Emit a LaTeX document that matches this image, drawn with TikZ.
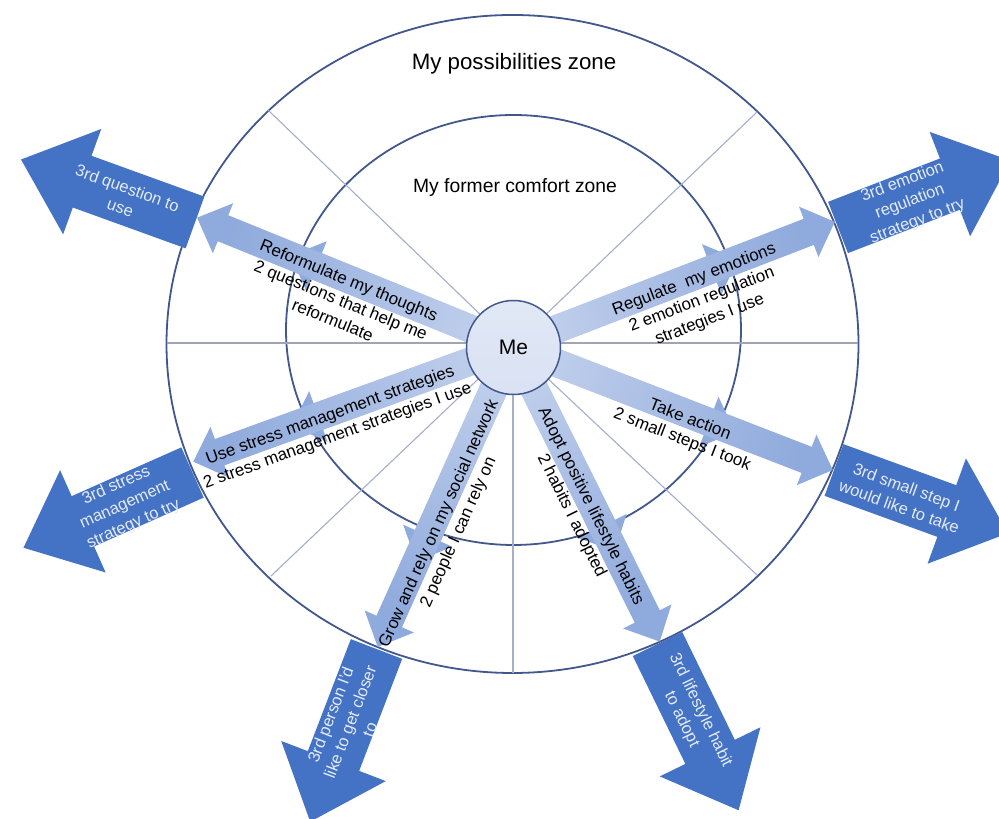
\documentclass[tikz,border=0pt]{standalone}
\usepackage{fontspec}
\setmainfont{Liberation Sans}
\definecolor{navy}{RGB}{66,88,140}
\definecolor{divline}{RGB}{165,175,205}
\definecolor{hline}{RGB}{160,165,182}
\definecolor{darkarr}{RGB}{68,114,196}
\definecolor{lightA}{RGB}{192,207,236}
\definecolor{lightB}{RGB}{143,170,220}
\definecolor{mefill}{RGB}{220,228,244}
\definecolor{darktext}{RGB}{228,235,248}
\tikzset{
  zone/.style={draw=navy, line width=1.8pt},
  divider/.style={draw=divline, line width=1.1pt},
  zonetext/.style={inner sep=0pt, text=black},
  spoketext/.style={font=\fontsize{17}{21.5}\selectfont, align=center, text=black, inner sep=0pt},
  darklabel/.style={font=\fontsize{16.5}{21}\selectfont, align=center, text=darktext, inner sep=0pt},
  mecircle/.style={circle, draw=navy, line width=1.5pt, top color=mefill!85!white, bottom color=mefill!90!lightA, minimum size=94pt, inner sep=0pt, font=\fontsize{21}{24}\selectfont},
}
% light spoke arrow: angle, length
\newcommand\spokearrow[2]{%
  \pgfmathsetmacro\shang{#1-90}%
  \begin{scope}[shift={(C)}, rotate=#1]
    \path[top color=lightB, bottom color=lightA, shading angle=\shang]
      (0,-14) -- ({#2-28},-14) -- ({#2-28},-27) -- (#2,0) -- ({#2-28},27) -- ({#2-28},14) -- (0,14) -- cycle;
  \end{scope}}
% dark block arrow: base midpoint, angle
\newcommand\bigarrow[2]{%
  \begin{scope}[shift={(#1)}, rotate=#2]
    \fill[darkarr] (0,-27.5) -- (120,-27.5) -- (120,-56) -- (185,0) -- (120,56) -- (120,27.5) -- (0,27.5) -- cycle;
  \end{scope}}
\begin{document}
\begin{tikzpicture}[x=1pt,y=1pt]
\clip (0,0) rectangle (999,819);
\fill[white] (0,0) rectangle (999,819);
\coordinate (C) at (513,473);
\coordinate (O) at (512.5,475);
\coordinate (I) at (513.5,489);
% zones
\draw[zone] (O) ellipse [x radius=346, y radius=329];
\draw[zone] (I) ellipse [x radius=227.5, y radius=215];
% dividers
\coordinate (dUL) at (268,709);
\coordinate (dUR) at (757,707);
\coordinate (dLL) at (271,243);
\coordinate (dLR) at (757,244);
\coordinate (dL) at (167,476);
\coordinate (dR) at (858,476);
\coordinate (dB) at (513,146);
\draw[divider] (C) -- (dUL);
\draw[divider] (C) -- (dUR);
\draw[divider] (C) -- (dLL);
\draw[divider] (C) -- (dLR);
\draw[divider] (C) -- (dB);
\draw[draw=hline, line width=1.8pt] (dL) -- (dR);
% light arrows (inner and outer)
\spokearrow{157.9}{240}
\spokearrow{157.9}{341}
\spokearrow{21.1}{241}
\spokearrow{21.1}{345}
\spokearrow{-21.2}{238}
\spokearrow{-21.2}{343}
\spokearrow{-63.6}{229}
\spokearrow{-63.6}{330}
\spokearrow{-114.2}{236}
\spokearrow{-114.2}{330}
\spokearrow{-160.1}{235}
\spokearrow{-160.1}{340}
% dark arrows
\bigarrow{195,596.5}{160.1}
\bigarrow{838,591.5}{21.2}
\bigarrow{834,349}{-20}
\bigarrow{657.5,175}{-64}
\bigarrow{376.5,170}{-111}
\bigarrow{192.5,346.5}{204}
% centre
\node[mecircle] (me) at (513.5,471.5) {Me};
% zone labels
\node[zonetext, font=\fontsize{22.3}{25}\selectfont] (possib) at (514,755) {My possibilities zone};
\node[zonetext, font=\fontsize{19.3}{22}\selectfont] (former) at (515,631) {My former comfort zone};
% spoke labels
\node[spoketext, rotate=-22.1] (lReform) at (341,519) {Reformulate my thoughts\\2 questions that help me\\reformulate};
\node[spoketext, rotate=21.1] (lRegul) at (702,519) {Regulate\ \ my emotions\\2 emotion regulation\\strategies I use};
\node[spoketext, rotate=-21.2] (lAction) at (686,389) {Take action\\2 small steps I took};
\node[spoketext, rotate=-63.6] (lAdopt) at (581,308) {Adopt positive lifestyle habits\\2 habits I adopted};
\node[spoketext, rotate=65.8] (lGrow) at (449,291) {Grow and rely on my social network\\2 people I can rely on};
\node[spoketext, rotate=19.9] (lStress) at (334,393) {Use stress management strategies\\2 stress management strategies I use};
% dark labels
\node[darklabel, rotate=-20] (dQuest) at (124,621) {3rd question to\\use};
\node[darklabel, rotate=21] (dEmot) at (910,617) {3rd emotion\\regulation\\strategy to try};
\node[darklabel, rotate=-20] (dStep) at (903,322) {3rd small step I\\would like to take};
\node[darklabel, rotate=-64] (dHabit) at (691,104) {3rd lifestyle habit\\to adopt};
\node[darklabel, rotate=69] (dPerson) at (350,97) {3rd person I'd\\like to get closer\\to};
\node[darklabel, rotate=24] (dStress) at (125,314) {3rd stress\\management\\strategy to try};
\end{tikzpicture}
\end{document}
